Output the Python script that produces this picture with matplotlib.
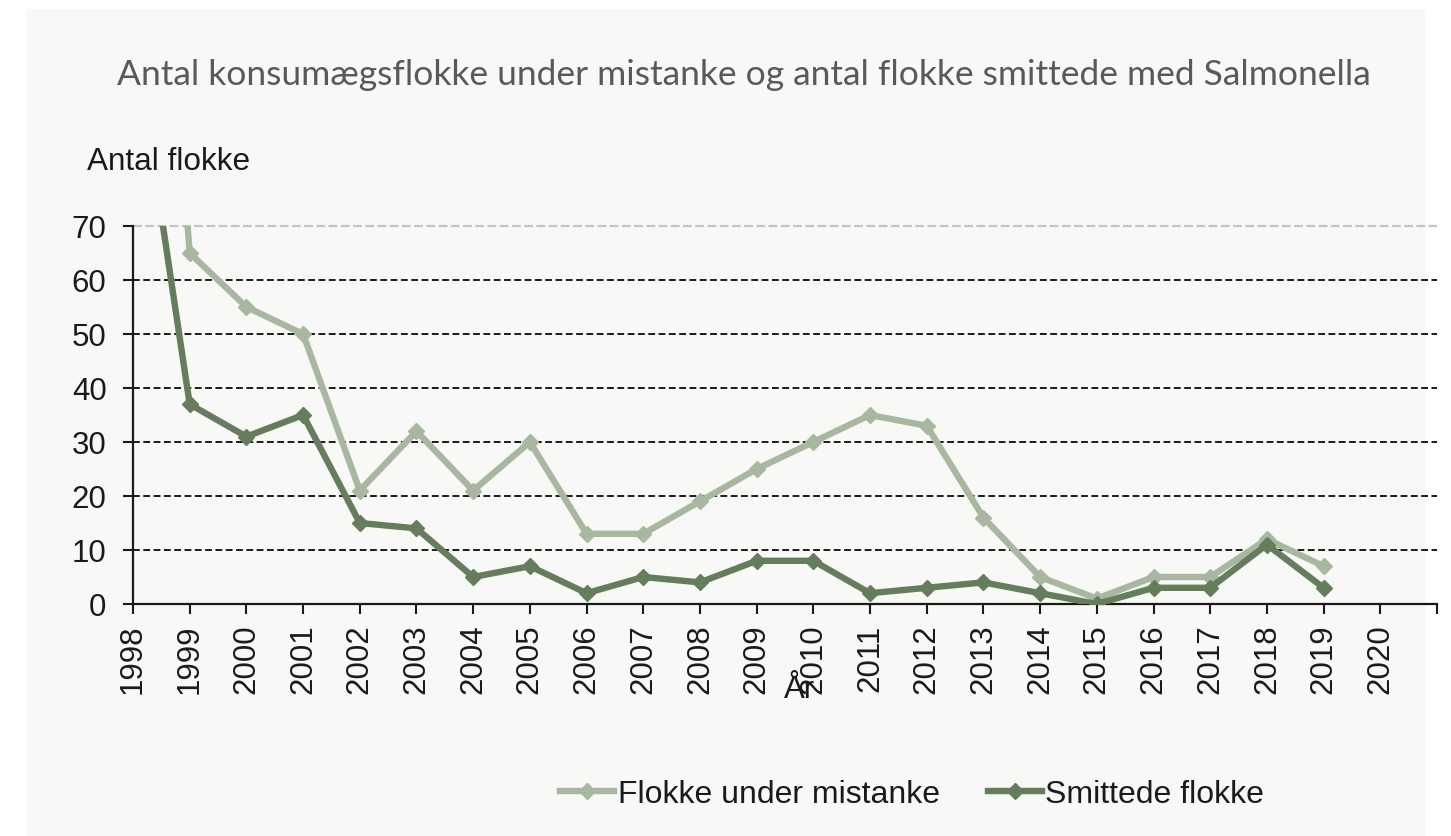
import matplotlib
matplotlib.use("Agg")
import matplotlib.pyplot as plt
from matplotlib.patches import Rectangle

years = list(range(1998, 2020))
# 1998 values are far above the axis (clipped), estimated from the line slopes
mistanke = [200, 65, 55, 50, 21, 32, 21, 30, 13, 13, 19, 25, 30, 35, 33, 16, 5, 1, 5, 5, 12, 7]
smittede = [107, 37, 31, 35, 15, 14, 5, 7, 2, 5, 4, 8, 8, 2, 3, 4, 2, 0, 3, 3, 11, 3]
tick_years = list(range(1998, 2022))
tick_labels = [str(y) for y in range(1998, 2021)] + [""]

light = "#a8b8a0"
dark = "#657d5c"
txt = "#1a1a1a"

plt.rcParams['font.family'] = ['Liberation Sans', 'DejaVu Sans']

fig = plt.figure(figsize=(14.51, 8.37), dpi=100, facecolor="white")
fig.patches.append(Rectangle((26 / 1451, 0), 1399 / 1451, 1 - 10 / 837,
                             transform=fig.transFigure, facecolor="#f8f8f6",
                             edgecolor="none", zorder=-10))

ax = fig.add_axes([133 / 1451, 1 - 605 / 837, (1437 - 133) / 1451, (605 - 227) / 837])
ax.set_facecolor("none")

for v in range(10, 70, 10):
    ax.axhline(v, color=txt, lw=1.4, linestyle=(0, (3.5, 1.8)), zorder=1)
ax.axhline(70, color="#c4c4c4", lw=1.6, linestyle=(0, (4, 1.5)), zorder=1, clip_on=False)

ax.plot(years, mistanke, color=light, lw=4.6, marker="D", markersize=8,
        label="Flokke under mistanke", zorder=3)
ax.plot(years, smittede, color=dark, lw=4.6, marker="D", markersize=8,
        label="Smittede flokke", zorder=4)

ax.set_xlim(1998, 2021)
ax.set_ylim(0, 70)
ax.set_xticks(tick_years)
ax.set_xticklabels(tick_labels, rotation=90, fontsize=22.5, color=txt)
ax.set_yticks(range(0, 80, 10))
ax.tick_params(axis="y", labelsize=22.5, labelcolor=txt, length=7, width=1.5, pad=12, color=txt)
ax.tick_params(axis="x", length=7, width=1.5, pad=7, color=txt)

for s in ["top", "right"]:
    ax.spines[s].set_visible(False)
for s in ["left", "bottom"]:
    ax.spines[s].set_linewidth(1.6)
    ax.spines[s].set_color(txt)

fig.text(744 / 1451, 1 - 75 / 837,
         "Antal konsumægsflokke under mistanke og antal flokke smittede med Salmonella",
         ha="center", va="center", fontsize=25.5, color="#595959", family=["Lato", "DejaVu Sans"])
fig.text(87 / 1451, 1 - 162 / 837, "Antal flokke", ha="left", va="center",
         fontsize=22.7, color=txt)
fig.text(800 / 1451, 1 - 690 / 837, "År", ha="center", va="center", fontsize=22.5, color=txt)

fig.legend(loc="center", bbox_to_anchor=(912 / 1451, 1 - 795 / 837), ncol=2,
           frameon=False, fontsize=23, handlelength=1.7, handletextpad=0.1,
           columnspacing=1.5, labelcolor=txt)

fig.savefig("out.png", dpi=100, facecolor="white")
